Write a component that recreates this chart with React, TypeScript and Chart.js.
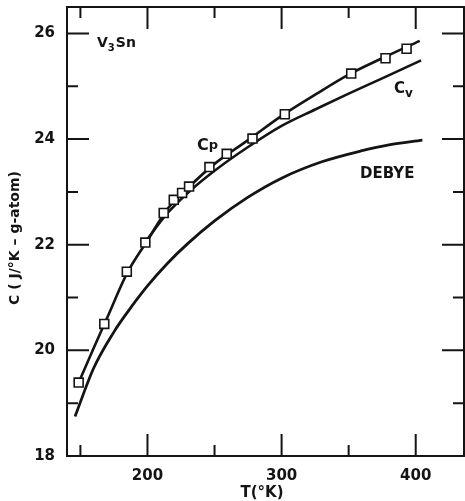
import React, { useEffect, useRef } from "react";
import { Chart, registerables } from "chart.js";

Chart.register(...registerables);

// Measured Cp points (squares)
const cpMeasuredT = [148.7, 167.8, 184.6, 198.4, 212.1, 219.6, 225.8, 231.0, 246.2, 259.1, 278.3, 302.4, 351.9, 377.5, 393.2];
const cpMeasuredC = [19.39, 20.5, 21.49, 22.04, 22.6, 22.85, 22.98, 23.1, 23.47, 23.72, 24.01, 24.47, 25.24, 25.53, 25.71];

// Smooth Cp curve
const cpCurveT = [148.7, 160, 170, 185, 200, 215, 230, 250, 275, 300, 325, 350, 375, 403];
const cpCurveC = [19.39, 20.05, 20.62, 21.47, 22.08, 22.68, 23.07, 23.53, 23.98, 24.44, 24.84, 25.22, 25.53, 25.86];

// Cv curve
const cvCurveT = [198, 215, 230, 250, 275, 300, 325, 350, 375, 404];
const cvCurveC = [22.04, 22.6, 22.98, 23.4, 23.85, 24.25, 24.56, 24.86, 25.15, 25.49];

// Debye curve
const debyeT = [146, 160, 175, 185, 200, 215, 230, 250, 275, 300, 330, 360, 380, 405];
const debyeC = [18.75, 19.67, 20.35, 20.72, 21.22, 21.65, 22.02, 22.45, 22.9, 23.26, 23.57, 23.78, 23.89, 23.98];

// Axes
const xMin = 140;
const xMax = 436;
const yMin = 18;
const yMax = 26.5;
const xTickValues = [200, 300, 400];
const xMinorValues = [150, 250, 350];
const yTickValues = [18, 20, 22, 24, 26];
const yMajorInner = [20, 22, 24, 26];
const yMinorValues = [19, 21, 23, 25];

const xTitle = "T(°K)";
const yTitle = "C ( J/°K – g-atom)";
const compound = ["V", "3", "Sn"];
const cpLabel = ["C", "p"];
const cvLabel = ["C", "v"];
const debyeLabel = "DEBYE";

const ink = "#141414";
const FONT = '"DejaVu Sans"';

function pts(xs: number[], ys: number[]) {
  return xs.map((x, i) => ({ x, y: ys[i] }));
}

function zeroPad(s: any) {
  s.paddingLeft = 0;
  s.paddingRight = 0;
  s.paddingTop = 0;
  s.paddingBottom = 0;
}

const framePlugin = {
  id: "framePlugin",
  afterDraw(chart: any) {
    const ctx = chart.ctx as CanvasRenderingContext2D;
    const { left, right, top, bottom } = chart.chartArea;
    const xs = chart.scales.x;
    const ys = chart.scales.y;
    ctx.save();
    ctx.strokeStyle = ink;
    ctx.lineWidth = 2;
    ctx.strokeRect(left, top, right - left, bottom - top);
    const major = 22;
    const minor = 11;
    ctx.lineWidth = 2;
    ctx.beginPath();
    const xv = (v: number, len: number) => {
      const px = xs.getPixelForValue(v);
      ctx.moveTo(px, bottom);
      ctx.lineTo(px, bottom - len);
      ctx.moveTo(px, top);
      ctx.lineTo(px, top + len);
    };
    const yv = (v: number, len: number) => {
      const py = ys.getPixelForValue(v);
      ctx.moveTo(left, py);
      ctx.lineTo(left + len, py);
      ctx.moveTo(right, py);
      ctx.lineTo(right - len, py);
    };
    xTickValues.forEach((v) => xv(v, major));
    xMinorValues.forEach((v) => xv(v, minor));
    yMajorInner.forEach((v) => yv(v, major));
    yMinorValues.forEach((v) => yv(v, minor));
    ctx.stroke();

    ctx.fillStyle = ink;
    ctx.textBaseline = "alphabetic";
    ctx.textAlign = "left";

    // V3Sn
    ctx.font = `bold 14px ${FONT}`;
    let x = 97;
    ctx.fillText(compound[0], x, 47);
    x += ctx.measureText(compound[0]).width;
    ctx.font = `bold 10px ${FONT}`;
    ctx.fillText(compound[1], x, 51);
    x += ctx.measureText(compound[1]).width + 1;
    ctx.font = `bold 14px ${FONT}`;
    ctx.fillText(compound[2], x, 47);

    // Cp
    ctx.font = `bold 16px ${FONT}`;
    ctx.fillText(cpLabel[0], 197, 150);
    let w = ctx.measureText(cpLabel[0]).width;
    ctx.font = `bold 13px ${FONT}`;
    ctx.fillText(cpLabel[1], 197 + w, 149);

    // Cv
    ctx.font = `bold 15px ${FONT}`;
    ctx.fillText(cvLabel[0], 394, 93);
    w = ctx.measureText(cvLabel[0]).width;
    ctx.font = `bold 12px ${FONT}`;
    ctx.fillText(cvLabel[1], 394 + w, 97);

    // DEBYE
    ctx.font = `bold 15px ${FONT}`;
    ctx.fillText(debyeLabel, 360, 178);

    // X title
    ctx.textAlign = "center";
    ctx.font = `bold 15px ${FONT}`;
    ctx.fillText(xTitle, 262, 497);

    // Y title
    ctx.save();
    ctx.translate(15, 238);
    ctx.rotate(-Math.PI / 2);
    ctx.textBaseline = "middle";
    ctx.font = `bold 14px ${FONT}`;
    ctx.fillText(yTitle, 0, 0);
    ctx.restore();

    ctx.restore();
  },
};

export default function App() {
  const ref = useRef<HTMLCanvasElement | null>(null);
  useEffect(() => {
    if (!ref.current) return;
    const chart = new Chart(ref.current, {
      type: "scatter",
      data: {
        datasets: [
          {
            label: "Cp measured",
            data: pts(cpMeasuredT, cpMeasuredC),
            showLine: false,
            pointStyle: "rect",
            pointRadius: 6.3,
            pointBackgroundColor: "#ffffff",
            pointBorderColor: ink,
            pointBorderWidth: 1.6,
            order: 0,
          },
          {
            label: "Cp",
            data: pts(cpCurveT, cpCurveC),
            showLine: true,
            borderColor: ink,
            borderWidth: 2.6,
            pointRadius: 0,
            cubicInterpolationMode: "monotone",
            order: 1,
          },
          {
            label: "Cv",
            data: pts(cvCurveT, cvCurveC),
            showLine: true,
            borderColor: ink,
            borderWidth: 2.6,
            pointRadius: 0,
            cubicInterpolationMode: "monotone",
            order: 2,
          },
          {
            label: "Debye",
            data: pts(debyeT, debyeC),
            showLine: true,
            borderColor: ink,
            borderWidth: 2.8,
            pointRadius: 0,
            cubicInterpolationMode: "monotone",
            order: 3,
          },
        ],
      } as any,
      options: {
        animation: false,
        responsive: true,
        maintainAspectRatio: false,
        layout: { autoPadding: false, padding: { top: 7, right: 1, left: 0, bottom: 0 } },
        plugins: {
          legend: { display: false },
          tooltip: { enabled: false },
        },
        scales: {
          x: {
            type: "linear",
            min: xMin,
            max: xMax,
            afterBuildTicks: (s: any) => {
              s.ticks = xTickValues.map((v) => ({ value: v }));
            },
            afterFit: (s: any) => {
              s.height = 45;
              zeroPad(s);
            },
            grid: { display: false },
            border: { display: false },
            ticks: {
              color: ink,
              font: { family: "DejaVu Sans", size: 15, weight: "bold" },
              padding: 3,
              maxRotation: 0,
              autoSkip: false,
            },
          },
          y: {
            type: "linear",
            min: yMin,
            max: yMax,
            afterBuildTicks: (s: any) => {
              s.ticks = yTickValues.map((v) => ({ value: v }));
            },
            afterFit: (s: any) => {
              s.width = 67;
              zeroPad(s);
            },
            grid: { display: false },
            border: { display: false },
            ticks: {
              color: ink,
              font: { family: "DejaVu Sans", size: 15, weight: "bold" },
              padding: 4,
              autoSkip: false,
            },
          },
        },
      } as any,
      plugins: [framePlugin],
    });
    return () => chart.destroy();
  }, []);
  return (
    <div style={{ position: "absolute", left: 0, top: 0, width: 465, height: 501, background: "#fff" }}>
      <canvas ref={ref} />
    </div>
  );
}
